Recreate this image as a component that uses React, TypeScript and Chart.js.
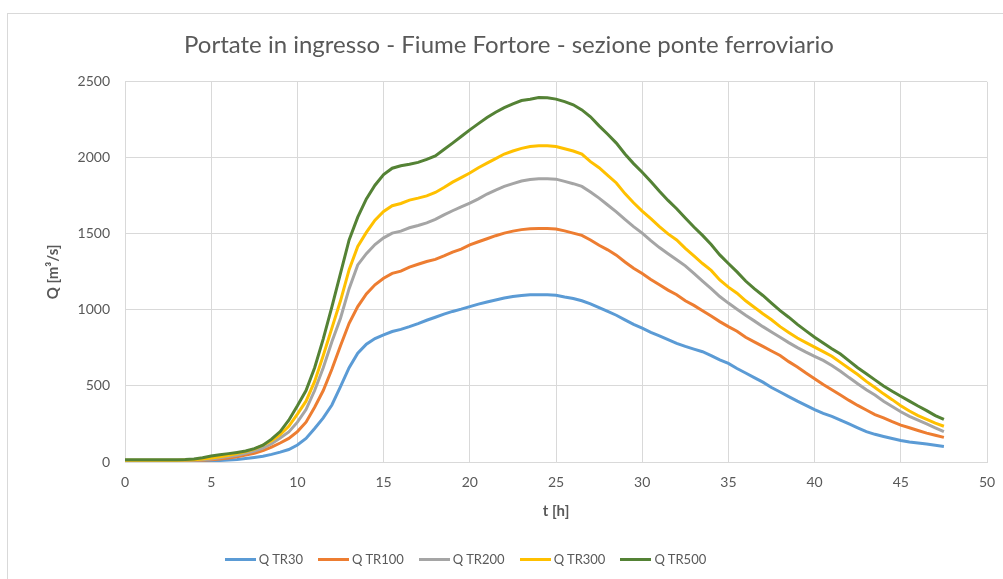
import React, { useEffect, useRef } from "react";
import { Chart, registerables } from "chart.js";

Chart.register(...registerables);

const chartTitle = "Portate in ingresso - Fiume Fortore - sezione ponte ferroviario";
const xTitle = "t [h]";
const yTitle = "Q [m³/s]";

// time [h]
const times = [
  0, 0.5, 1, 1.5, 2, 2.5, 3, 3.5, 4, 4.5,
  5, 5.5, 6, 6.5, 7, 7.5, 8, 8.5, 9, 9.5,
  10, 10.5, 11, 11.5, 12, 12.5, 13, 13.5, 14, 14.5,
  15, 15.5, 16, 16.5, 17, 17.5, 18, 18.5, 19, 19.5,
  20, 20.5, 21, 21.5, 22, 22.5, 23, 23.5, 24, 24.5,
  25, 25.5, 26, 26.5, 27, 27.5, 28, 28.5, 29, 29.5,
  30, 30.5, 31, 31.5, 32, 32.5, 33, 33.5, 34, 34.5,
  35, 35.5, 36, 36.5, 37, 37.5, 38, 38.5, 39, 39.5,
  40, 40.5, 41, 41.5, 42, 42.5, 43, 43.5, 44, 44.5,
  45, 45.5, 46, 46.5, 47, 47.5,
];

const seriesNames = ["Q TR30", "Q TR100", "Q TR200", "Q TR300", "Q TR500"];

const qTR30 = [
  5, 5, 5, 5, 5, 5, 5, 5, 6, 7,
  8, 10, 13, 17, 23, 30, 38, 50, 65, 82,
  112, 155, 220, 290, 375, 495, 620, 715, 775, 812,
  836, 858, 872, 890, 910, 932, 952, 972, 990, 1005,
  1022, 1038, 1052, 1065, 1078, 1088, 1095, 1099, 1100, 1100,
  1097, 1085, 1075, 1060, 1040, 1015, 990, 965, 935, 905,
  880, 852, 830, 805, 780, 760, 742, 725, 700, 671,
  648, 615, 585, 555, 525, 490, 460, 430, 400, 372,
  345, 320, 300, 275, 250, 225, 200, 182, 168, 155,
  142, 132, 125, 118, 110, 102,
];

const qTR100 = [
  8, 8, 8, 8, 8, 8, 8, 9, 10, 12,
  15, 20, 26, 35, 46, 58, 75, 98, 125, 155,
  200, 262, 360, 470, 610, 765, 912, 1022, 1105, 1165,
  1208, 1240, 1255, 1282, 1300, 1318, 1332, 1355, 1380, 1400,
  1428, 1448, 1468, 1488, 1505, 1518, 1528, 1533, 1535, 1535,
  1532, 1520, 1505, 1490, 1460, 1425, 1395, 1360, 1315, 1274,
  1240, 1200, 1165, 1130, 1100, 1060, 1030, 995, 960, 923,
  890, 860, 820, 790, 760, 730, 700, 660, 625, 585,
  548, 510, 475, 440, 405, 372, 342, 312, 290, 265,
  242, 225, 207, 190, 176, 162,
];

const qTR200 = [
  10, 10, 10, 10, 10, 10, 10, 11, 12, 15,
  20, 28, 36, 45, 58, 72, 92, 120, 158, 198,
  262, 345, 470, 620, 790, 945, 1140, 1296, 1370, 1430,
  1474, 1505, 1518, 1540, 1555, 1572, 1595, 1625, 1652, 1678,
  1702, 1730, 1762, 1788, 1812, 1830, 1848, 1858, 1862, 1862,
  1860, 1845, 1830, 1812, 1775, 1735, 1690, 1645, 1595, 1548,
  1505, 1455, 1410, 1370, 1330, 1290, 1240, 1190, 1140, 1088,
  1045, 1005, 965, 928, 890, 855, 820, 785, 752, 722,
  695, 668, 635, 597, 555, 515, 475, 440, 400, 365,
  330, 300, 275, 250, 225, 200,
];

const qTR300 = [
  12, 12, 12, 12, 12, 12, 12, 13, 15, 20,
  27, 35, 45, 55, 68, 85, 110, 140, 180, 235,
  315, 400, 530, 700, 880, 1060, 1265, 1417, 1510, 1590,
  1647, 1685, 1700, 1722, 1735, 1750, 1772, 1805, 1840, 1870,
  1900, 1935, 1965, 1995, 2025, 2045, 2062, 2075, 2080, 2080,
  2075, 2060, 2045, 2025, 1975, 1935, 1885, 1835, 1765, 1705,
  1650, 1600, 1548, 1500, 1460, 1405, 1355, 1305, 1260, 1197,
  1150, 1110, 1060, 1018, 975, 935, 890, 852, 815, 785,
  755, 726, 695, 655, 615, 575, 530, 490, 448, 410,
  370, 335, 305, 280, 255, 235,
];

const qTR500 = [
  15, 15, 15, 15, 15, 15, 15, 16, 20, 28,
  40, 48, 55, 63, 72, 88, 110, 150, 200, 275,
  370, 470, 620, 810, 1020, 1240, 1460, 1610, 1730, 1820,
  1890, 1932, 1948, 1958, 1970, 1990, 2013, 2055, 2097, 2140,
  2184, 2225, 2265, 2300, 2330, 2355, 2377, 2385, 2397, 2395,
  2386, 2370, 2349, 2315, 2270, 2210, 2155, 2097, 2025, 1962,
  1905, 1845, 1780, 1720, 1665, 1605, 1545, 1490, 1430, 1362,
  1305, 1250, 1190, 1140, 1095, 1045, 995, 952, 905, 862,
  820, 782, 745, 710, 665, 620, 580, 540, 500, 465,
  432, 400, 368, 338, 305, 280,
];

const seriesColors = ["#5B9BD5", "#ED7D31", "#A5A5A5", "#FFC000", "#548235"];

const yMin = 0;
const yMax = 2500;
const yStep = 500;
const xMin = 0;
const xMax = 50;
const xStep = 5;

const FONT = "Lato, 'Open Sans', 'DejaVu Sans', sans-serif";
const TEXT = "#595959";
const GRID = "#d9d9d9";

export default function App() {
  const canvasRef = useRef<HTMLCanvasElement | null>(null);

  useEffect(() => {
    if (!canvasRef.current) return;
    const seriesValues = [qTR30, qTR100, qTR200, qTR300, qTR500];
    const chart = new Chart(canvasRef.current, {
      type: "line",
      data: {
        datasets: seriesNames.map((name, i) => ({
          label: name,
          data: times.map((t, j) => ({ x: t, y: seriesValues[i][j] })),
          borderColor: seriesColors[i],
          backgroundColor: seriesColors[i],
          borderWidth: 3,
          pointRadius: 0,
          pointHoverRadius: 0,
          tension: 0,
          fill: false,
          order: seriesNames.length - i,
        })),
      },
      options: {
        responsive: false,
        animation: false,
        events: [],
        layout: { padding: { left: 31, right: 16, top: 0, bottom: 57 } },
        plugins: {
          legend: { display: false },
          tooltip: { enabled: false },
          title: {
            display: true,
            text: chartTitle,
            color: TEXT,
            font: { family: FONT, size: 24, weight: "normal", lineHeight: 1.2 },
            padding: { top: 31, bottom: 22 },
          },
        },
        scales: {
          x: {
            type: "linear",
            min: xMin,
            max: xMax,
            ticks: {
              stepSize: xStep,
              color: TEXT,
              font: { family: FONT, size: 14 },
              padding: 12,
              maxRotation: 0,
              callback: (v: any) => String(v),
            },
            grid: { color: GRID, drawTicks: false, lineWidth: 1 },
            border: { color: GRID, width: 1 },
            title: {
              display: true,
              text: xTitle,
              color: TEXT,
              font: { family: FONT, size: 15, weight: "bold", lineHeight: 1.2 },
              padding: { top: 0, bottom: 2 },
            },
            afterFit: (scale: any) => {
              scale.height = 60;
              scale.paddingLeft = 0;
              scale.paddingRight = 0;
            },
          },
          y: {
            type: "linear",
            min: yMin,
            max: yMax,
            ticks: {
              stepSize: yStep,
              color: TEXT,
              font: { family: FONT, size: 14 },
              padding: 15,
              callback: (v: any) => String(v),
            },
            grid: { color: GRID, drawTicks: false, lineWidth: 1 },
            border: { color: GRID, width: 1 },
            title: {
              display: true,
              text: yTitle,
              color: TEXT,
              font: { family: FONT, size: 15, weight: "bold", lineHeight: 1.2 },
              padding: { top: 13, bottom: 0 },
            },
            afterFit: (scale: any) => {
              scale.width = 94;
            },
          },
        },
      },
    });
    return () => chart.destroy();
  }, []);

  return (
    <div
      style={{
        position: "fixed",
        left: 0,
        top: 0,
        width: 1003,
        height: 579,
        overflow: "hidden",
        background: "#ffffff",
      }}
    >
      <div
        style={{
          position: "absolute",
          left: 7,
          top: 13,
          width: 1200,
          height: 800,
          border: `1px solid ${GRID}`,
        }}
      />
      <canvas
        ref={canvasRef}
        width={1003}
        height={579}
        style={{ position: "absolute", left: 0, top: 0, width: 1003, height: 579 }}
      />
      <div
        style={{
          position: "absolute",
          left: 0,
          top: 550,
          width: 931,
          height: 18,
          display: "flex",
          justifyContent: "center",
          alignItems: "center",
          gap: 15,
          fontFamily: FONT,
          fontSize: 13,
          color: TEXT,
          whiteSpace: "nowrap",
        }}
      >
        {seriesNames.map((name, i) => (
          <div key={name} style={{ display: "flex", alignItems: "center" }}>
            <div style={{ width: 31, height: 3, background: seriesColors[i], marginRight: 3 }} />
            <span>{name}</span>
          </div>
        ))}
      </div>
    </div>
  );
}
